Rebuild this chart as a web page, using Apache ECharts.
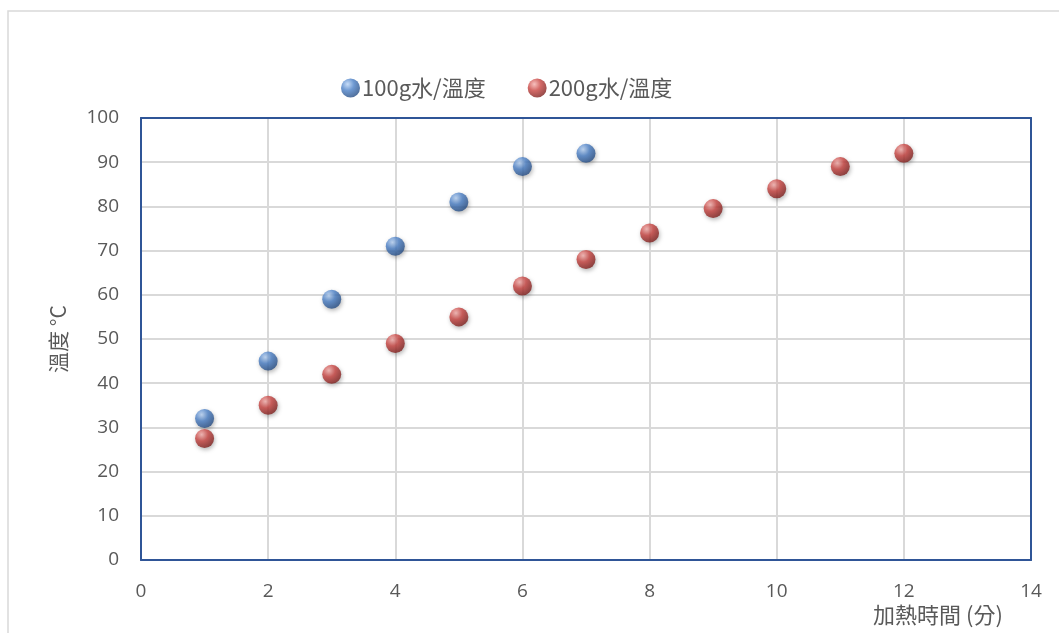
<!DOCTYPE html>
<html>
<head>
<meta charset="utf-8">
<script src="https://cdn.jsdelivr.net/npm/echarts@6/dist/echarts.min.js"></script>
<style>
  html, body { margin: 0; padding: 0; background: #ffffff; }
  #chart { width: 1059px; height: 633px; }
</style>
</head>
<body>
<div id="chart"></div>
<script>
// Heating time (minutes) and water temperature (°C)
const seriesNames = ['100g水/溫度', '200g水/溫度'];
const time100 = [1, 2, 3, 4, 5, 6, 7];
const temp100 = [32, 45, 59, 71, 81, 89, 92];
const time200 = [1, 2, 3, 4, 5, 6, 7, 8, 9, 10, 11, 12];
const temp200 = [27.5, 35, 42, 49, 55, 62, 68, 74, 79.5, 84, 89, 92];
const xAxisName = '加熱時間 (分)';
const yAxisName = '溫度 °C';

const FONT = '"Open Sans", "Noto Sans CJK TC", sans-serif';
const CJK = '"Noto Sans CJK TC", sans-serif';
const FRAME = '#2f5597';

// Glossy sphere fill for scatter markers
function sphere(light, base, dark) {
  return new echarts.graphic.RadialGradient(0.35, 0.3, 0.75, [
    { offset: 0, color: light },
    { offset: 0.45, color: base },
    { offset: 1, color: dark }
  ]);
}
const blueFill = sphere('#b8d3f5', '#4a7fc6', '#244a80');
const redFill = sphere('#f5b0ad', '#c84340', '#7a1e1c');

const chart = echarts.init(document.getElementById('chart'), null, { renderer: 'canvas' });

const pair = (xs, ys) => xs.map((x, i) => [x, ys[i]]);

const gridLine = { show: true, lineStyle: { color: '#d9d9d9', width: 2 } };
const frameLine = { show: true, onZero: false, lineStyle: { color: FRAME, width: 2 } };
const tickText = { fontFamily: FONT, fontSize: 19, color: '#595959', margin: 22 };

chart.setOption({
  animation: false,
  backgroundColor: '#ffffff',
  graphic: [{
    type: 'rect',
    shape: { x: 8, y: 11, width: 1100, height: 700 },
    style: { fill: 'none', stroke: '#d9d9d9', lineWidth: 1.5 },
    silent: true,
    z: -10
  }],
  legend: {
    top: 72,
    left: 336,
    itemGap: 42,
    itemWidth: 19,
    itemHeight: 19,
    textStyle: { fontFamily: CJK, fontSize: 22, color: '#595959', padding: [0, 0, 0, -3] },
    data: [
      { name: seriesNames[0], icon: 'circle', itemStyle: { color: blueFill } },
      { name: seriesNames[1], icon: 'circle', itemStyle: { color: redFill } }
    ]
  },
  grid: {
    left: 141,
    top: 118,
    width: 890,
    height: 442,
    containLabel: false
  },
  xAxis: [{
    type: 'value',
    min: 0,
    max: 14,
    interval: 2,
    name: xAxisName,
    nameLocation: 'end',
    nameGap: 0,
    nameTextStyle: {
      fontFamily: CJK, fontSize: 22, color: '#595959',
      align: 'center', verticalAlign: 'top',
      padding: [44, 186, 0, 0]
    },
    axisLine: frameLine,
    axisTick: { show: false },
    axisLabel: tickText,
    splitLine: gridLine,
    z: 2
  }, {
    type: 'value',
    position: 'top',
    min: 0,
    max: 14,
    interval: 2,
    axisLine: frameLine,
    axisTick: { show: false },
    axisLabel: { show: false },
    splitLine: { show: false },
    z: 2
  }],
  yAxis: [{
    type: 'value',
    min: 0,
    max: 100,
    interval: 10,
    name: yAxisName,
    nameLocation: 'middle',
    nameGap: 72,
    nameRotate: 90,
    nameTextStyle: { fontFamily: CJK, fontSize: 21, color: '#595959' },
    axisLine: frameLine,
    axisTick: { show: false },
    axisLabel: tickText,
    splitLine: gridLine,
    z: 2
  }, {
    type: 'value',
    position: 'right',
    min: 0,
    max: 100,
    interval: 10,
    axisLine: frameLine,
    axisTick: { show: false },
    axisLabel: { show: false },
    splitLine: { show: false },
    z: 2
  }],
  series: [
    {
      name: seriesNames[0],
      type: 'scatter',
      symbol: 'circle',
      symbolSize: 19,
      data: pair(time100, temp100),
      itemStyle: {
        color: blueFill,
        shadowColor: 'rgba(0,0,0,0.35)',
        shadowBlur: 4,
        shadowOffsetX: 1,
        shadowOffsetY: 2
      },
      z: 3
    },
    {
      name: seriesNames[1],
      type: 'scatter',
      symbol: 'circle',
      symbolSize: 19,
      data: pair(time200, temp200),
      itemStyle: {
        color: redFill,
        shadowColor: 'rgba(0,0,0,0.35)',
        shadowBlur: 4,
        shadowOffsetX: 1,
        shadowOffsetY: 2
      },
      z: 4
    }
  ]
});
</script>
</body>
</html>
